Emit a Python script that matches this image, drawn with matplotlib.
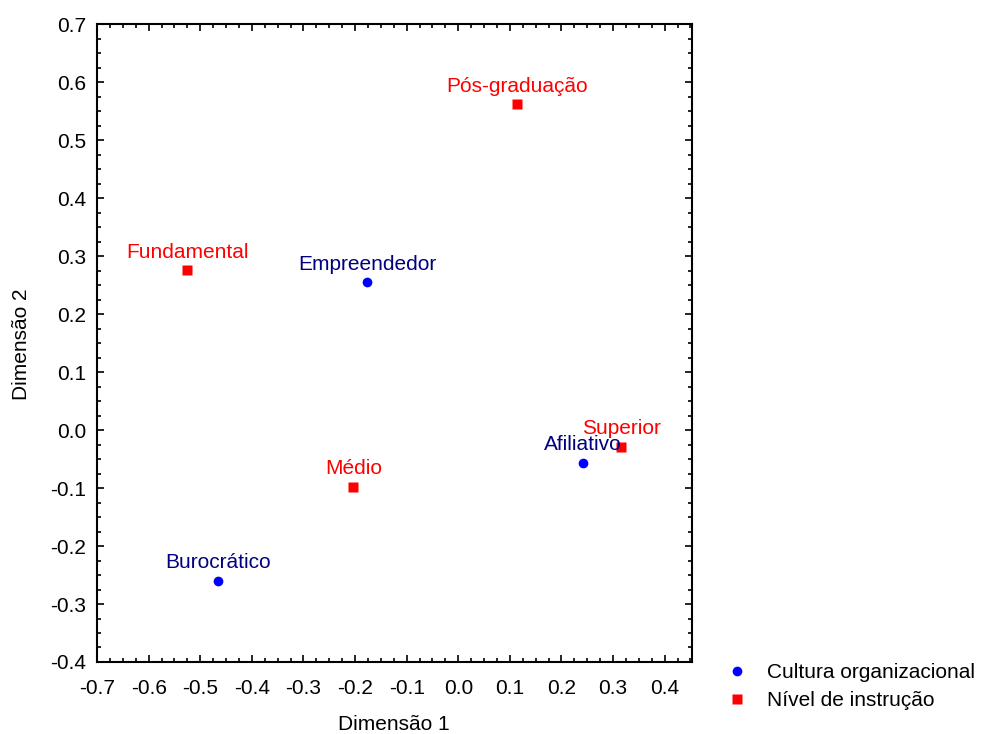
import numpy as np
import matplotlib.pyplot as plt
from matplotlib.ticker import MultipleLocator

plt.rcParams['font.family'] = ['Liberation Sans', 'DejaVu Sans']
plt.rcParams['font.size'] = 15
plt.rcParams['axes.unicode_minus'] = False

# dados -----------------------------------------------------------------
cult_names = ['Empreendedor', 'Afiliativo', 'Burocrático']
cult_x = [-0.176, 0.241, -0.465]
cult_y = [0.255, -0.056, -0.260]

inst_names = ['Pós-graduação', 'Fundamental', 'Superior', 'Médio']
inst_x = [0.114, -0.525, 0.316, -0.203]
inst_y = [0.562, 0.276, -0.029, -0.098]

xticks = np.round(np.arange(-0.7, 0.41, 0.1), 1)
yticks = np.round(np.arange(-0.4, 0.71, 0.1), 1)
# -----------------------------------------------------------------------


def fmt(v):
    return '%.1f' % (0.0 if abs(v) < 1e-9 else v)


fig = plt.figure(figsize=(9.81, 7.34), dpi=100)
ax = fig.add_axes([0.0989, 0.0981, 0.606, 0.869])

l1, = ax.plot(cult_x, cult_y, 'o', color='#0000ff', ms=7, mec='none', label='Cultura organizacional')
l2, = ax.plot(inst_x, inst_y, 's', color='#ff0000', ms=7, mec='none', label='Nível de instrução')

for n, x, y in zip(cult_names, cult_x, cult_y):
    ax.annotate(n, (x, y), xytext=(0, 9), textcoords='offset points',
                ha='center', va='baseline', color='#000080')
for n, x, y in zip(inst_names, inst_x, inst_y):
    ax.annotate(n, (x, y), xytext=(0, 9), textcoords='offset points',
                ha='center', va='baseline', color='#ff0000')

ax.set_xlim(-0.7, 0.452)
ax.set_ylim(-0.4, 0.7)
ax.set_xticks(xticks)
ax.set_xticklabels([fmt(v) for v in xticks])
ax.set_yticks(yticks)
ax.set_yticklabels([fmt(v) for v in yticks])
ax.xaxis.set_minor_locator(MultipleLocator(0.025))
ax.yaxis.set_minor_locator(MultipleLocator(0.025))
ax.tick_params(which='both', direction='in', top=True, right=True, width=1.2)
ax.tick_params(which='major', length=5)
ax.tick_params(which='minor', length=3)
ax.tick_params(axis='x', pad=12)
ax.tick_params(axis='y', pad=8)
for s in ax.spines.values():
    s.set_linewidth(1.5)

fig.text(394 / 981, 1 - 725 / 734, 'Dimensão 1', ha='center', va='center')
fig.text(22 / 981, 1 - 344 / 734, 'Dimensão 2', ha='center', va='center', rotation=90)

fig.legend(handles=[l1, l2], loc='upper left', bbox_to_anchor=(727 / 981, 1 - 663 / 734),
           frameon=False, handletextpad=0.9, handlelength=1.0, labelspacing=0.45,
           borderpad=0, borderaxespad=0)

plt.savefig('out.png', dpi=100)
